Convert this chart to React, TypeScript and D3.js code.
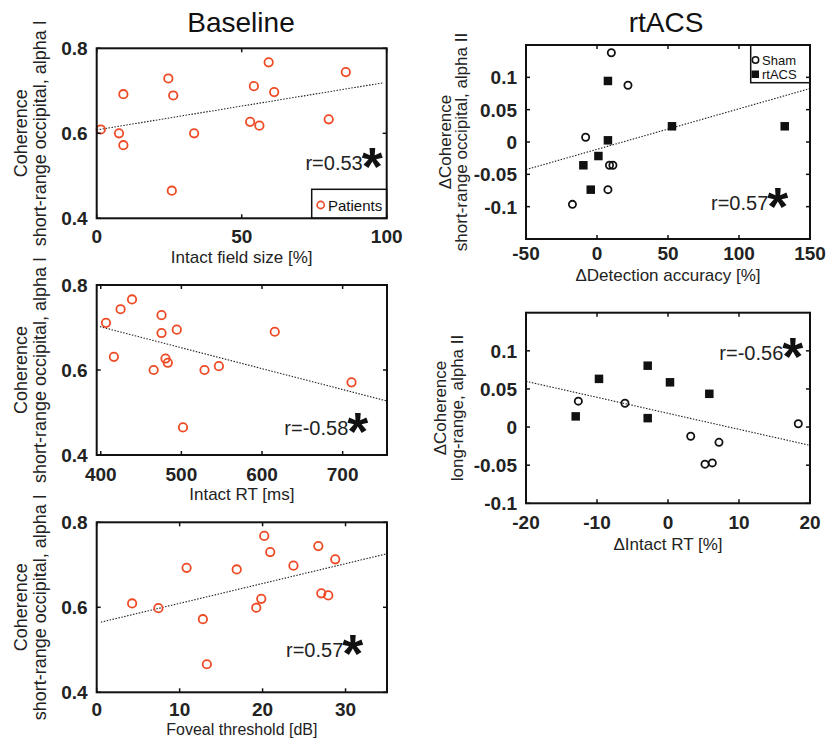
import React from "react";
import * as d3 from "d3";

// ---------- DATA ----------
// Baseline panel 1: intact field size vs coherence
const p1X = [1.4, 7.7, 9.2, 9.2, 24.7, 26.4, 25.9, 33.6, 52.9, 54.2, 56.1, 59.3, 61.2, 80.0, 85.9];
const p1Y = [0.609, 0.6, 0.572, 0.692, 0.729, 0.689, 0.465, 0.6, 0.627, 0.711, 0.618, 0.767, 0.697, 0.633, 0.744];
const fit1X = [0, 99];
const fit1Y = [0.608, 0.719];

// Baseline panel 2: intact RT vs coherence
const p2X = [406.5, 416.3, 424.6, 438.8, 465.6, 475.4, 475.4, 480.3, 483.2, 494.3, 502, 528.7, 546.5, 615.8, 711.0];
const p2Y = [0.711, 0.631, 0.743, 0.766, 0.6, 0.729, 0.687, 0.627, 0.617, 0.695, 0.465, 0.6, 0.609, 0.69, 0.571];
const fit2X = [399, 755];
const fit2Y = [0.702, 0.527];

// Baseline panel 3: foveal threshold vs coherence
const p3X = [4.27, 7.44, 10.84, 12.8, 13.28, 16.88, 19.24, 19.84, 20.2, 20.92, 23.72, 26.72, 27.08, 27.92, 28.76];
const p3Y = [0.609, 0.598, 0.693, 0.572, 0.466, 0.689, 0.599, 0.62, 0.768, 0.73, 0.698, 0.744, 0.633, 0.628, 0.713];
const fit3X = [0.5, 35];
const fit3Y = [0.565, 0.726];

// rtACS panel 4: detection accuracy change
const p4ShamX = [10.1, 21.8, -8.0, 8.8, 11.2, 7.7, -17.3];
const p4ShamY = [0.138, 0.0878, 0.0073, -0.036, -0.036, -0.0737, -0.0964];
const p4TacsX = [7.7, 7.7, 1.0, -9.6, -4.4, 52.8, 132.2];
const p4TacsY = [0.0944, 0.0026, -0.0217, -0.036, -0.0737, 0.0243, 0.0243];
const fit4X = [-50, 150];
const fit4Y = [-0.0427, 0.0827];

// rtACS panel 5: intact RT change
const p5ShamX = [-12.63, -6.06, 3.2, 7.18, 5.21, 6.24, 18.35];
const p5ShamY = [0.034, 0.0313, -0.0121, -0.02, -0.0487, -0.047, 0.0044];
const p5TacsX = [-13.0, -9.72, -2.86, 0.28, -2.86, 5.82];
const p5TacsY = [0.014, 0.0632, 0.0805, 0.0587, 0.0117, 0.0436];
const fit5X = [-20, 20];
const fit5Y = [0.06, -0.024];

// Ticks
const baseYTicks = [0.4, 0.6, 0.8];
const p1XTicks = [0, 50, 100];
const p2XTicks = [400, 500, 600, 700];
const p3XTicks = [0, 10, 20, 30];
const p4XTicks = [-50, 0, 50, 100, 150];
const p4YTicks = [-0.1, -0.05, 0, 0.05, 0.1];
const p5XTicks = [-20, -10, 0, 10, 20];
const p5YTicks = [-0.1, -0.05, 0, 0.05, 0.1];

const rLabels = ["r=0.53", "r=-0.58", "r=0.57", "r=0.57", "r=-0.56"];

const ORANGE = "#ee4a25";
const FONT = "'Liberation Sans', Arial, Helvetica, sans-serif";

type Pt = { x: number; y: number };
const zip = (xs: number[], ys: number[]): Pt[] => xs.map((x, i) => ({ x, y: ys[i] }));

type PanelProps = {
  box: { l: number; r: number; t: number; b: number };
  xDom: [number, number];
  yDom: [number, number];
  xTicks: number[];
  yTicks: number[];
  yFmt?: (v: number) => string;
  xLabel: string;
  xLabelSize?: number;
  yLabel: [string, string];
  yLabelX: [number, number];
  yLabelSize: number;
  xLabelY: number;
  xTickDy: number;
  fit: Pt[];
  children: (x: d3.ScaleLinear<number, number>, y: d3.ScaleLinear<number, number>) => React.ReactNode;
  rText: string;
  rPos: { x: number; y: number };
};

function Panel(p: PanelProps) {
  const { box } = p;
  const x = d3.scaleLinear().domain(p.xDom).range([box.l, box.r]);
  const y = d3.scaleLinear().domain(p.yDom).range([box.b, box.t]);
  const line = d3
    .line<Pt>()
    .x((d) => x(d.x))
    .y((d) => y(d.y));
  const tl = 4;
  const cy = (box.t + box.b) / 2;
  const fmt = p.yFmt || ((v: number) => String(v));
  return (
    <g>
      <path d={line(p.fit) || ""} fill="none" stroke="#222" strokeWidth={1.1} strokeDasharray="1.5,1.5" />
      {p.children(x, y)}
      <rect x={box.l} y={box.t} width={box.r - box.l} height={box.b - box.t} fill="none" stroke="#111" strokeWidth={2} />
      {p.xTicks.map((t) => (
        <g key={"xt" + t}>
          <line x1={x(t)} x2={x(t)} y1={box.b} y2={box.b - tl} stroke="#111" strokeWidth={1.5} />
          <line x1={x(t)} x2={x(t)} y1={box.t} y2={box.t + tl} stroke="#111" strokeWidth={1.5} />
          <text x={x(t)} y={box.b + p.xTickDy} textAnchor="middle" fontSize={19} fontWeight="bold" fill="#222">
            {t}
          </text>
        </g>
      ))}
      {p.yTicks.map((t) => (
        <g key={"yt" + t}>
          <line x1={box.l} x2={box.l + tl} y1={y(t)} y2={y(t)} stroke="#111" strokeWidth={1.5} />
          <line x1={box.r} x2={box.r - tl} y1={y(t)} y2={y(t)} stroke="#111" strokeWidth={1.5} />
          <text x={box.l - 9} y={y(t) + 7} textAnchor="end" fontSize={19} fontWeight="bold" fill="#222">
            {fmt(t)}
          </text>
        </g>
      ))}
      <text x={(box.l + box.r) / 2} y={p.xLabelY} textAnchor="middle" fontSize={p.xLabelSize || 17} fill="#222">
        {p.xLabel}
      </text>
      <text transform={`translate(${p.yLabelX[0]},${cy}) rotate(-90)`} textAnchor="middle" fontSize={p.yLabelSize} fill="#222">
        {p.yLabel[0]}
      </text>
      <text transform={`translate(${p.yLabelX[1]},${cy}) rotate(-90)`} textAnchor="middle" fontSize={p.yLabelSize} fill="#222">
        {p.yLabel[1]}
      </text>
      <text x={p.rPos.x} y={p.rPos.y} textAnchor="end" fontSize={20} fill="#222">
        {p.rText}
      </text>
      <text x={p.rPos.x - 1} y={p.rPos.y + 15} fontSize={54} fontWeight="bold" fill="#111">
        *
      </text>
    </g>
  );
}

const circles = (pts: Pt[], x: any, y: any, color: string, r: number) =>
  pts.map((d, i) => <circle key={"c" + i} cx={x(d.x)} cy={y(d.y)} r={r} fill="none" stroke={color} strokeWidth={1.8} />);
const squares = (pts: Pt[], x: any, y: any, s: number) =>
  pts.map((d, i) => <rect key={"s" + i} x={x(d.x) - s / 2} y={y(d.y) - s / 2} width={s} height={s} fill="#111" />);

const ptFmt = (v: number) => (v === 0 ? "0" : String(+v.toFixed(2)));

export default function App() {
  return (
    <svg
      width={826}
      height={739}
      style={{ position: "absolute", left: 0, top: 0, background: "#fff" }}
      fontFamily={FONT}
    >
      <text x={241} y={32} textAnchor="middle" fontSize={28} fill="#111">
        Baseline
      </text>
      <text x={666} y={32} textAnchor="middle" fontSize={28} fill="#111">
        rtACS
      </text>

      <Panel
        box={{ l: 96.7, r: 386.7, t: 48.3, b: 218.3 }}
        xDom={[0, 100]}
        yDom={[0.4, 0.8]}
        xTicks={p1XTicks}
        yTicks={baseYTicks}
        xLabel="Intact field size [%]"
        yLabel={["Coherence", "short-range occipital, alpha I"]}
        yLabelX={[27, 46]}
        yLabelSize={18}
        xLabelY={263}
        xTickDy={25}
        fit={zip(fit1X, fit1Y)}
        rText={rLabels[0]}
        rPos={{ x: 362.7, y: 170 }}
      >
        {(x, y) => (
          <g>
            {circles(zip(p1X, p1Y), x, y, ORANGE, 4.2)}
            <rect x={311.7} y={189.3} width={75} height={29} fill="#fff" stroke="#111" strokeWidth={1.5} />
            <circle cx={320.7} cy={205} r={3.6} fill="none" stroke={ORANGE} strokeWidth={1.6} />
            <text x={328} y={210.5} fontSize={15} fill="#111">
              Patients
            </text>
          </g>
        )}
      </Panel>

      <Panel
        box={{ l: 96.7, r: 387, t: 285, b: 455 }}
        xDom={[395, 755]}
        yDom={[0.4, 0.8]}
        xTicks={p2XTicks}
        yTicks={baseYTicks}
        xLabel="Intact RT [ms]"
        yLabel={["Coherence", "short-range occipital, alpha I"]}
        yLabelX={[27, 46]}
        yLabelSize={18}
        xLabelY={500}
        xTickDy={26}
        fit={zip(fit2X, fit2Y)}
        rText={rLabels[1]}
        rPos={{ x: 348.3, y: 435 }}
      >
        {(x, y) => <g>{circles(zip(p2X, p2Y), x, y, ORANGE, 4.2)}</g>}
      </Panel>

      <Panel
        box={{ l: 96.7, r: 387, t: 522.3, b: 692.3 }}
        xDom={[0, 35]}
        yDom={[0.4, 0.8]}
        xTicks={p3XTicks}
        yTicks={baseYTicks}
        xLabel="Foveal threshold [dB]"
        xLabelSize={16}
        yLabel={["Coherence", "short-range occipital, alpha I"]}
        yLabelX={[27, 46]}
        yLabelSize={18}
        xLabelY={735}
        xTickDy={24}
        fit={zip(fit3X, fit3Y)}
        rText={rLabels[2]}
        rPos={{ x: 343.3, y: 656.7 }}
      >
        {(x, y) => <g>{circles(zip(p3X, p3Y), x, y, ORANGE, 4.2)}</g>}
      </Panel>

      <Panel
        box={{ l: 526, r: 810, t: 45, b: 239 }}
        xDom={[-50, 150]}
        yDom={[-0.15, 0.15]}
        xTicks={p4XTicks}
        yTicks={p4YTicks}
        yFmt={ptFmt}
        xLabel="ΔDetection accuracy [%]"
        yLabel={["ΔCoherence", "short-range occipital, alpha II"]}
        yLabelX={[451, 467]}
        yLabelSize={17}
        xLabelY={281}
        xTickDy={21}
        fit={zip(fit4X, fit4Y)}
        rText={rLabels[3]}
        rPos={{ x: 768.3, y: 210 }}
      >
        {(x, y) => (
          <g>
            {circles(zip(p4ShamX, p4ShamY), x, y, "#111", 3.6)}
            {squares(zip(p4TacsX, p4TacsY), x, y, 8.5)}
            <rect x={750.7} y={45} width={59.3} height={37.7} fill="#fff" stroke="#111" strokeWidth={1.5} />
            <circle cx={755.5} cy={60} r={3.2} fill="none" stroke="#111" strokeWidth={1.5} />
            <text x={762} y={64.5} fontSize={13} fill="#111">
              Sham
            </text>
            <rect x={751.5} y={70.5} width={7.5} height={7.5} fill="#111" />
            <text x={762} y={79} fontSize={13} fill="#111">
              rtACS
            </text>
          </g>
        )}
      </Panel>

      <Panel
        box={{ l: 526, r: 810, t: 312.7, b: 503.3 }}
        xDom={[-20, 20]}
        yDom={[-0.1, 0.15]}
        xTicks={p5XTicks}
        yTicks={p5YTicks}
        yFmt={ptFmt}
        xLabel="ΔIntact RT [%]"
        yLabel={["ΔCoherence", "long-range, alpha II"]}
        yLabelX={[446, 463]}
        yLabelSize={17}
        xLabelY={550}
        xTickDy={26}
        fit={zip(fit5X, fit5Y)}
        rText={rLabels[4]}
        rPos={{ x: 783.3, y: 360 }}
      >
        {(x, y) => (
          <g>
            {circles(zip(p5ShamX, p5ShamY), x, y, "#111", 3.6)}
            {squares(zip(p5TacsX, p5TacsY), x, y, 8.5)}
          </g>
        )}
      </Panel>
    </svg>
  );
}
